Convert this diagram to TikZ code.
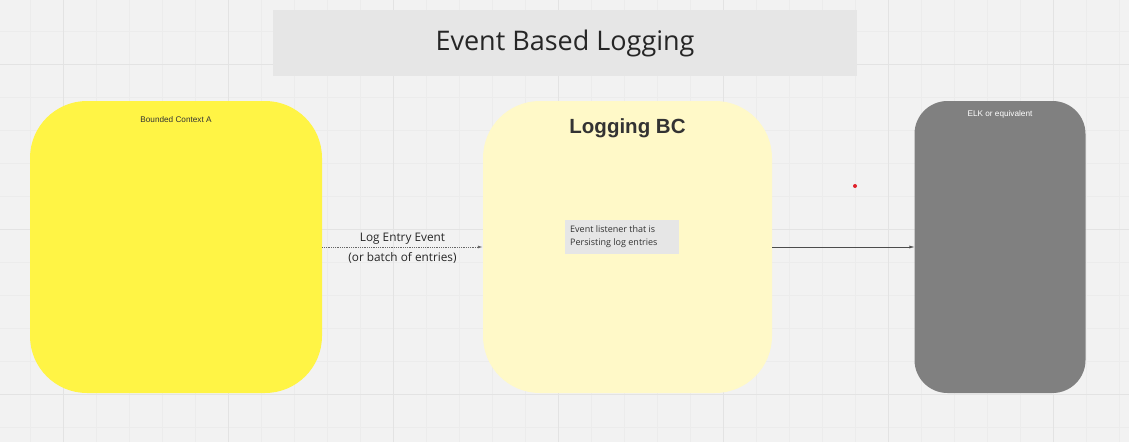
\documentclass[tikz,border=0pt]{standalone}
\usepackage{fontspec}
\setmainfont{Open Sans}
\newfontfamily\arialfont{Liberation Sans}
\usetikzlibrary{arrows.meta}

\definecolor{boardbg}{HTML}{F2F2F2}
\definecolor{gridminor}{HTML}{ECECEC}
\definecolor{gridmajor}{HTML}{E3E3E3}
\definecolor{titlegray}{HTML}{E6E6E6}
\definecolor{bcyellow}{HTML}{FFF445}
\definecolor{bclight}{HTML}{FFF9C8}
\definecolor{elkgray}{HTML}{808080}
\definecolor{inktext}{HTML}{333333}
\definecolor{dotred}{HTML}{E0202A}

\tikzset{
  minorline/.style = {draw = gridminor, line width = 0.8pt},
  majorline/.style = {draw = gridmajor, line width = 1pt},
  bcbox/.style = {rounded corners = 57pt, minimum width = 292pt,
    minimum height = 292pt, inner sep = 0pt},
  smalllabel/.style = {font = \arialfont\fontsize{8.2}{9}\selectfont, text = inktext},
  flowlabel/.style = {font = \fontsize{11.8}{14}\selectfont, text = black!85}
}

\begin{document}
\begin{tikzpicture}[x = 1pt, y = -1pt]
\useasboundingbox (0, 0) rectangle (1129, 442);
\fill[boardbg] (0, 0) rectangle (1129, 442);
% board grid
\foreach \gx in {-3, 30, ..., 1130} \draw[minorline] (\gx, 0) -- (\gx, 442);
\foreach \gy in {-2, 31, ..., 442} \draw[minorline] (0, \gy) -- (1129, \gy);
\foreach \gx in {63, 228, ..., 1130} \draw[majorline] (\gx, 0) -- (\gx, 442);
\foreach \gy in {64, 229, 394} \draw[majorline] (0, \gy) -- (1129, \gy);

\node[fill = titlegray, minimum width = 584pt, minimum height = 66pt,
  font = \fontsize{27}{32}\selectfont, text = black!85] (title) at (565, 43) {Event Based Logging};

\node[bcbox, fill = bcyellow] (bca) at (176, 247) {};
\node[smalllabel] (bcaname) at (176, 120) {Bounded Context A};

\node[bcbox, fill = bclight, minimum width = 289pt] (lbc) at (627.5, 247) {};
\node[font = \arialfont\bfseries\fontsize{20.5}{24}\selectfont, text = inktext] (lbcname) at (627.5, 128) {Logging BC};
\node[fill = titlegray, minimum width = 114pt, minimum height = 34pt, inner sep = 0pt] (listener) at (622, 237) {};
\node[anchor = north west, inner sep = 0pt, align = left, font = \fontsize{9}{13}\selectfont, text = inktext]
  (listenertext) at (570, 225) {Event listener that is\\Persisting log entries};

\node[bcbox, fill = elkgray, rounded corners = 33pt, minimum width = 171pt] (elk) at (1000, 247) {};
\node[smalllabel, text = white] (elkname) at (1000, 114) {ELK or equivalent};

\draw[densely dotted, thick, color = black!60, -{Latex[length = 5pt, width = 3pt]}] (bca.east) -- (lbc.west)
  node[midway, above, flowlabel, yshift = -1pt] {Log Entry Event}
  node[midway, below, flowlabel, yshift = -2pt] {(or batch of entries)};
\draw[color = black!70, -{Latex[length = 5pt, width = 3pt]}] (lbc.east) -- (elk.west);

\fill[dotred] (855, 186) circle (2pt);
\end{tikzpicture}
\end{document}
